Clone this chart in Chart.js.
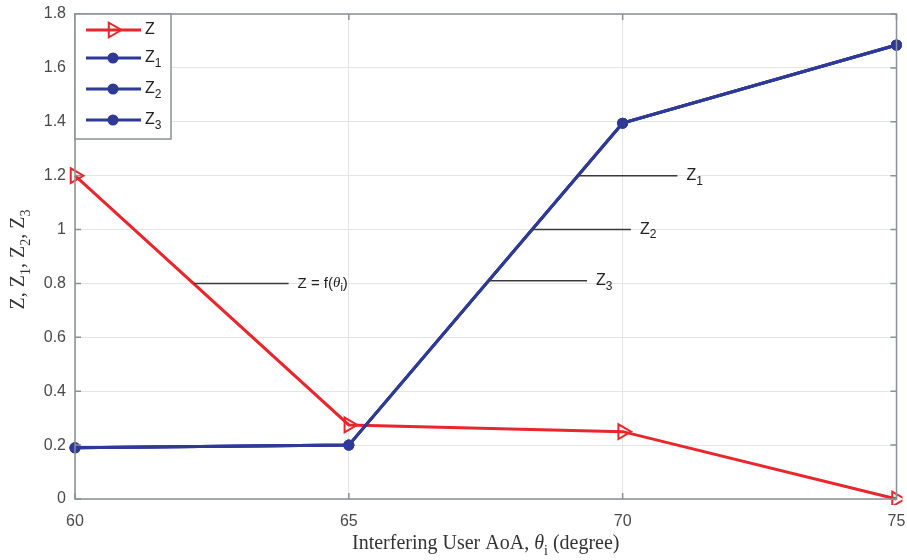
<!DOCTYPE html>
<html>
<head>
<meta charset="utf-8">
<script src="https://cdn.jsdelivr.net/npm/chart.js@4.4.1/dist/chart.umd.min.js"></script>
<style>
  html, body { margin: 0; padding: 0; background: #fff; }
  #wrap { width: 907px; height: 560px; position: relative; }
</style>
</head>
<body>
<div id="wrap"><canvas id="chart"></canvas></div>
<script>
// Data
const angles = [60, 65, 70, 75];
const zValues = [1.2, 0.275, 0.25, 0];
const z1Values = [0.19, 0.2, 1.395, 1.685];
const z2Values = [0.19, 0.2, 1.395, 1.685];
const z3Values = [0.19, 0.2, 1.395, 1.685];
const yTicks = [0, 0.2, 0.4, 0.6, 0.8, 1, 1.2, 1.4, 1.6, 1.8];
const xTicks = [60, 65, 70, 75];

// Callout labels: [main, subscript], anchor point on the curve, end of leader line
const noteText = [['Z = f(', ''], ['Z', '1'], ['Z', '2'], ['Z', '3']];
const noteAnchorX = [62.17, 69.18, 68.35, 67.55];
const noteAnchorY = [0.8, 1.2, 1.0, 0.81];
const noteEndX = [63.9, 71.0, 70.15, 69.35];

const RED = '#e8262b';
const BLUE = '#2e3a96';
const AXIS = '#8c9094';
const TICKTXT = '#4a4a4a';

const seriesNames = ['Z', 'Z1', 'Z2', 'Z3'];
const seriesData = [zValues, z1Values, z2Values, z3Values];

function toPoints(vals) {
  return angles.map((a, i) => ({ x: a, y: vals[i] }));
}

const datasets = seriesData.map((vals, i) => {
  const isZ = i === 0;
  return {
    label: seriesNames[i],
    data: toPoints(vals),
    borderColor: isZ ? RED : BLUE,
    borderWidth: 3,
    pointStyle: isZ ? 'triangle' : 'circle',
    pointRotation: isZ ? 90 : 0,
    pointRadius: isZ ? 8.5 : 4.5,
    pointBorderWidth: 2,
    pointBackgroundColor: isZ ? 'rgba(0,0,0,0)' : BLUE,
    pointBorderColor: isZ ? RED : BLUE,
    tension: 0,
    clip: 6
  };
});
// draw red last so it sits on top
datasets.reverse();

// text with subscript helper
function drawSub(ctx, x, y, main, sub, size, family) {
  ctx.font = size + 'px ' + family;
  ctx.fillText(main, x, y);
  let w = ctx.measureText(main).width;
  if (sub) {
    ctx.font = Math.round(size * 0.72) + 'px ' + family;
    ctx.fillText(sub, x + w, y + size * 0.35);
    w += ctx.measureText(sub).width;
  }
  return w;
}

const decorations = {
  id: 'decorations',
  afterDraw(chart) {
    const ctx = chart.ctx;
    const xs = chart.scales.x, ys = chart.scales.y;
    const area = chart.chartArea;
    ctx.save();

    // box + inner ticks
    ctx.strokeStyle = AXIS;
    ctx.lineWidth = 1.5;
    ctx.strokeRect(area.left, area.top, area.right - area.left, area.bottom - area.top);
    ctx.beginPath();
    yTicks.forEach(v => {
      const py = ys.getPixelForValue(v);
      ctx.moveTo(area.left, py); ctx.lineTo(area.left + 6, py);
      ctx.moveTo(area.right, py); ctx.lineTo(area.right - 6, py);
    });
    xTicks.forEach(v => {
      const px = xs.getPixelForValue(v);
      ctx.moveTo(px, area.bottom); ctx.lineTo(px, area.bottom - 6);
      ctx.moveTo(px, area.top); ctx.lineTo(px, area.top + 6);
    });
    ctx.stroke();

    // callouts
    ctx.strokeStyle = '#3a3a3a';
    ctx.lineWidth = 1.5;
    ctx.fillStyle = '#222';
    ctx.textBaseline = 'middle';
    ctx.textAlign = 'left';
    const sans = '"Liberation Sans", Arial, sans-serif';
    noteText.forEach((t, i) => {
      const x0 = xs.getPixelForValue(noteAnchorX[i]);
      const x1 = xs.getPixelForValue(noteEndX[i]);
      const py = ys.getPixelForValue(noteAnchorY[i]);
      ctx.beginPath();
      ctx.moveTo(x0, py); ctx.lineTo(x1, py);
      ctx.stroke();
      const tx = x1 + 9;
      if (i === 0) {
        let w = drawSub(ctx, tx, py, 'Z = f(', '', 15, sans);
        ctx.font = 'italic 15px "Liberation Serif", serif';
        ctx.fillText('\u03b8', tx + w, py);
        w += ctx.measureText('\u03b8').width;
        ctx.font = '11px ' + sans;
        ctx.fillText('i', tx + w, py + 5);
        w += ctx.measureText('i').width;
        ctx.font = '15px ' + sans;
        ctx.fillText(')', tx + w, py);
      } else {
        drawSub(ctx, tx, py, t[0], t[1], 16, sans);
      }
    });

    // legend
    const lx = area.left, ly = area.top;
    const lw = 96, lh = 125;
    ctx.fillStyle = '#fff';
    ctx.fillRect(lx, ly, lw, lh);
    ctx.strokeStyle = AXIS;
    ctx.lineWidth = 1.5;
    ctx.strokeRect(lx, ly, lw, lh);
    const rows = [16, 44, 75, 106];
    const subs = ['', '1', '2', '3'];
    rows.forEach((ry, i) => {
      const isZ = i === 0;
      const col = isZ ? RED : BLUE;
      const yy = ly + ry;
      ctx.strokeStyle = col;
      ctx.lineWidth = 3;
      ctx.beginPath();
      ctx.moveTo(lx + 11, yy); ctx.lineTo(lx + 66, yy);
      ctx.stroke();
      ctx.lineWidth = 2;
      ctx.fillStyle = isZ ? 'rgba(0,0,0,0)' : BLUE;
      Chart.helpers.drawPoint(ctx, {
        pointStyle: isZ ? 'triangle' : 'circle',
        radius: isZ ? 8.5 : 4.5,
        rotation: isZ ? 90 : 0,
        borderWidth: 2
      }, lx + 38, yy);
      ctx.fillStyle = '#222';
      drawSub(ctx, lx + 70, yy, 'Z', subs[i], 16, sans);
    });

    // axis titles
    const serif = '"Liberation Serif", "Times New Roman", serif';
    ctx.fillStyle = '#333';
    ctx.textBaseline = 'middle';
    // x title
    const parts = [['Interfering User AoA, ', 'normal 20px'], ['\u03b8', 'italic 20px'], ['i', 'normal 14px'], [' (degree)', 'normal 20px']];
    let total = 0;
    parts.forEach(p => { ctx.font = p[1] + ' ' + serif; total += ctx.measureText(p[0]).width; });
    let cx = (area.left + area.right) / 2 - total / 2;
    const cy = 544;
    parts.forEach(p => {
      ctx.font = p[1] + ' ' + serif;
      ctx.fillText(p[0], cx, p[0] === 'i' ? cy + 7 : cy);
      cx += ctx.measureText(p[0]).width;
    });
    // y title
    ctx.save();
    ctx.translate(19, (area.top + area.bottom) / 2 + 3);
    ctx.rotate(-Math.PI / 2);
    const yparts = [['Z, Z', ''], ['1', 's'], [', Z', ''], ['2', 's'], [', Z', ''], ['3', 's']];
    let yw = 0;
    yparts.forEach(p => { ctx.font = (p[1] ? '14px ' : '20px ') + serif; yw += ctx.measureText(p[0]).width; });
    let ox = -yw / 2;
    yparts.forEach(p => {
      ctx.font = (p[1] ? '14px ' : '20px ') + serif;
      ctx.fillText(p[0], ox, p[1] ? 7 : 0);
      ox += ctx.measureText(p[0]).width;
    });
    ctx.restore();

    ctx.restore();
  }
};

new Chart(document.getElementById('chart'), {
  type: 'line',
  data: { datasets },
  options: {
    responsive: true,
    maintainAspectRatio: false,
    animation: false,
    layout: { padding: { top: 14, right: 7, left: 0, bottom: 0 } },
    plugins: {
      legend: { display: false },
      tooltip: { enabled: false }
    },
    scales: {
      x: {
        type: 'linear',
        min: 60, max: 75,
        afterBuildTicks: s => { s.ticks = xTicks.map(v => ({ value: v })); },
        afterFit: s => { s.height = 61; s.paddingRight = 0; s.paddingLeft = 0; },
        grid: { color: '#e4e5e7', lineWidth: 1, drawTicks: false },
        border: { display: false },
        ticks: {
          color: TICKTXT,
          padding: 13,
          font: { family: '"Liberation Sans", Arial, sans-serif', size: 16 },
          callback: v => String(v)
        }
      },
      y: {
        min: 0, max: 1.8,
        afterBuildTicks: s => { s.ticks = yTicks.map(v => ({ value: v })); },
        afterFit: s => { s.width = 75; s.paddingTop = 0; s.paddingBottom = 0; },
        grid: { color: '#e4e5e7', lineWidth: 1, drawTicks: false },
        border: { display: false },
        ticks: {
          color: TICKTXT,
          padding: 9,
          font: { family: '"Liberation Sans", Arial, sans-serif', size: 16 },
          callback: v => String(+v.toFixed(1))
        }
      }
    }
  },
  plugins: [decorations]
});
</script>
</body>
</html>
